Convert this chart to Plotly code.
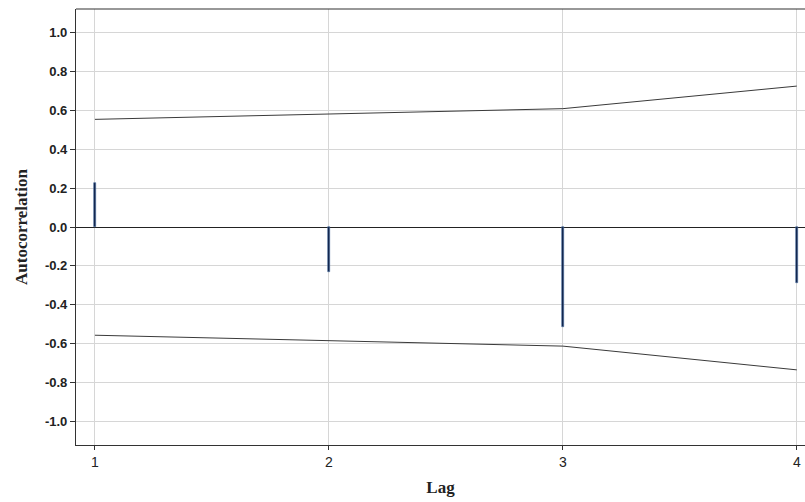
import plotly.graph_objects as go

# Autocorrelation function with confidence bounds
lags = [1, 2, 3, 4]
acf_values = [0.227, -0.233, -0.514, -0.289]
upper_bound = [0.553, 0.580, 0.608, 0.724]
lower_bound = [-0.556, -0.585, -0.612, -0.734]
y_ticks = [1.0, 0.8, 0.6, 0.4, 0.2, 0.0, -0.2, -0.4, -0.6, -0.8, -1.0]

fig = go.Figure()

fig.add_trace(go.Scatter(
    x=lags, y=upper_bound, mode="lines",
    line=dict(color="#3a3a3a", width=1), showlegend=False, hoverinfo="skip"))
fig.add_trace(go.Scatter(
    x=lags, y=lower_bound, mode="lines",
    line=dict(color="#3a3a3a", width=1), showlegend=False, hoverinfo="skip"))

fig.add_trace(go.Bar(
    x=lags, y=acf_values, width=0.011,
    marker=dict(color="#0d1f45", line=dict(color="#4a6fa0", width=0.6)),
    showlegend=False))

axis_title_font = dict(family="Liberation Serif", size=17, color="#222", weight="bold")

fig.update_layout(
    width=805, height=502,
    margin=dict(l=76, r=0, t=9, b=57),
    paper_bgcolor="white", plot_bgcolor="white",
    bargap=0,
    xaxis=dict(
        range=[0.919, 4.035], tickvals=lags, ticktext=[str(v) for v in lags],
        showgrid=True, gridcolor="#d6d6d6", gridwidth=1,
        ticks="outside", ticklen=4, tickcolor="#333",
        tickfont=dict(family="Liberation Sans", size=14, color="#222"),
        showline=True, linecolor="#333", linewidth=1.2, mirror=False,
        zeroline=False,
        title=dict(text="Lag", font=axis_title_font, standoff=12),
    ),
    yaxis=dict(
        range=[-1.12, 1.12], tickvals=y_ticks,
        ticktext=[f"{v:.1f}" for v in y_ticks],
        showgrid=True, gridcolor="#d6d6d6", gridwidth=1,
        ticks="outside", ticklen=5, tickcolor="#333",
        tickfont=dict(family="Liberation Sans", size=13, color="#222", weight="bold"),
        showline=True, linecolor="#333", linewidth=1.2, mirror=False,
        zeroline=True, zerolinecolor="#222", zerolinewidth=1.2,
        title=dict(text="Autocorrelation", font=axis_title_font, standoff=12),
    ),
)

# top frame line across the plotting area
fig.add_shape(type="line", xref="paper", yref="paper", x0=0, x1=1, y0=1, y1=1,
              line=dict(color="#333", width=1.2))

fig.write_html("out.html")
